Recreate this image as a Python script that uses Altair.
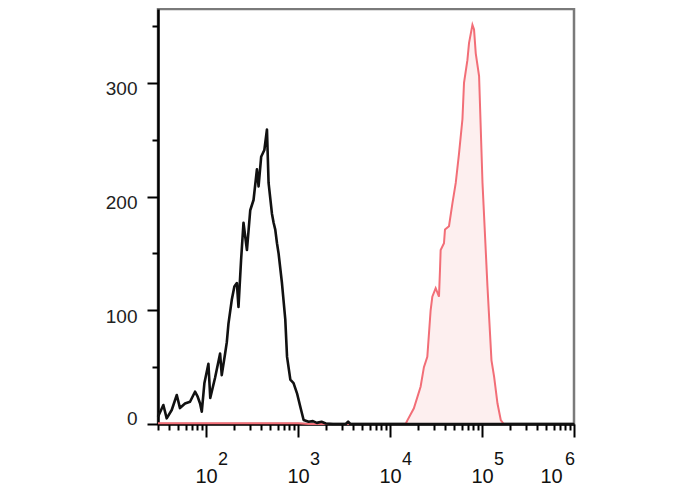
import altair as alt
import pandas as pd

# Black (control) histogram: channel value, event count
black_x = [30, 34.3, 37.3, 42.3, 48, 52, 59, 66.9, 75.8, 81, 86, 89.8, 95.8, 106, 111, 125,
           142, 148, 161, 168, 175, 190, 203, 216, 225, 240, 255, 278, 302, 328, 357, 372,
           397, 430, 459, 478, 520, 542, 565, 590, 614, 668, 726, 759, 824, 893, 974, 1059,
           1149, 1303, 1450, 1600, 1800, 2000, 2400, 3300, 3500, 3700, 1000000]
black_y = [6.4, 16.7, 5, 12.3, 25.5, 14, 18, 19.6, 28.4, 24, 18, 10.8, 35.8, 53, 23, 40.5,
           62, 43, 62, 72, 88, 109, 121, 124, 103, 144, 177, 153, 188, 197, 224, 209,
           235, 241, 259, 212, 185, 177, 171, 159, 150, 124, 92, 59, 39, 36, 27, 15,
           3.5, 2, 2.5, 1, 2, 0.5, 0, 0, 2, 0, 0]

# Red (stained) histogram
red_x = [30, 1000, 1300, 14760, 15380, 18160, 21480, 23350, 25420, 27620, 28820, 31330, 34050,
         34920, 35500, 38580, 39560, 43740, 47650, 51790, 56250, 61240, 63700, 69340, 72210,
         78670, 81880, 85460, 92900, 101200, 114600, 126700, 135300, 147300, 159900, 172200,
         220000]
red_y = [0.6, 0.6, 0, 0, 3, 13.8, 32.8, 50, 59, 100, 112, 119.5, 112,
         135.6, 153, 159, 171, 174, 194, 212, 238, 268, 300, 320, 335,
         351, 347, 326, 306, 212, 121, 56, 41.6, 18, 3.5, 0,
         0]

decades = [100, 1000, 10000, 100000, 1000000]
exponents = ["2", "3", "4", "5", "6"]

x_ticks = [30, 40, 50, 60, 70, 80, 90,
           100, 200, 300, 400, 500, 600, 700, 800, 900,
           1000, 2000, 3000, 4000, 5000, 6000, 7000, 8000, 9000,
           10000, 20000, 30000, 40000, 50000, 60000, 70000, 80000, 90000,
           100000, 200000, 300000, 400000, 500000, 600000, 700000, 800000, 900000,
           1000000]
y_ticks = [0, 25, 50, 75, 100, 125, 150, 175, 200, 225, 250, 275, 300, 325, 350]

black_df = pd.DataFrame({"x": black_x, "y": black_y})
red_df = pd.DataFrame({"x": red_x, "y": red_y})
exp_df = pd.DataFrame({"x": decades, "e": exponents})

FONT = "Liberation Sans"

xscale = alt.Scale(type="log", domain=[30, 1000000], nice=False)
yscale = alt.Scale(domain=[0, 365], nice=False, zero=True)

x_axis = alt.Axis(
    values=x_ticks,
    title=None,
    grid=False,
    domainColor="#000000",
    domainWidth=2.5,
    tickColor="#000000",
    tickWidth=2,
    tickSize={"condition": {"test": "indexof([100,1000,10000,100000,1000000], datum.value) >= 0",
                            "value": 13}, "value": 6},
    labelExpr="indexof([100,1000,10000,100000,1000000], datum.value) >= 0 ? '10' : ''",
    labelFont=FONT,
    labelFontSize=20,
    labelColor="#111111",
    labelBaseline="alphabetic",
    labelPadding=45,
    labelOffset={"condition": {"test": "datum.value == 1000000", "value": -23}, "value": 0},
    labelOverlap=False,
    labelFlush=False,
)

y_axis = alt.Axis(
    values=y_ticks,
    title=None,
    grid=False,
    domainColor="#000000",
    domainWidth=2.5,
    tickColor="#000000",
    tickWidth=2,
    tickSize={"condition": {"test": "datum.value % 100 == 0", "value": 11}, "value": 6},
    labelExpr="datum.value % 100 == 0 ? datum.label : ''",
    labelFont=FONT,
    labelFontSize=19,
    labelColor="#222222",
    labelPadding=10,
    labelOffset={"condition": {"test": "datum.value == 0", "value": -6}, "value": 6},
    labelOverlap=False,
    labelFlush=False,
)

red_area = alt.Chart(red_df).mark_area(color="#fdefef", opacity=1).encode(
    x=alt.X("x:Q", scale=xscale, axis=x_axis),
    y=alt.Y("y:Q", scale=yscale, axis=y_axis),
)
red_line = alt.Chart(red_df).mark_line(color="#f26e77", strokeWidth=2).encode(
    x=alt.X("x:Q", scale=xscale),
    y=alt.Y("y:Q", scale=yscale),
)
black_line = alt.Chart(black_df).mark_line(color="#111111", strokeWidth=2.6,
                                           strokeJoin="round").encode(
    x=alt.X("x:Q", scale=xscale),
    y=alt.Y("y:Q", scale=yscale),
)

sup_main = alt.Chart(exp_df).transform_filter("datum.x < 1000000").mark_text(
    font=FONT, fontSize=18, color="#111111", align="left", baseline="alphabetic", dx=12
).encode(
    x=alt.X("x:Q", scale=xscale),
    y=alt.value(456),
    text="e:N",
)
sup_last = alt.Chart(exp_df).transform_filter("datum.x >= 1000000").mark_text(
    font=FONT, fontSize=18, color="#111111", align="right", baseline="alphabetic", dx=1
).encode(
    x=alt.X("x:Q", scale=xscale),
    y=alt.value(456),
    text="e:N",
)

chart = alt.layer(red_area, red_line, black_line, sup_main, sup_last).properties(
    width=416,
    height=415,
    background="white",
    autosize=alt.AutoSizeParams(type="none"),
    padding={"left": 150, "top": 1, "right": 20, "bottom": 64},
).configure_view(
    stroke="#7a7a7a",
    strokeWidth=2.5,
    strokeOpacity=1,
)

chart.save("out.html", embed_options={"renderer": "svg", "actions": False})
